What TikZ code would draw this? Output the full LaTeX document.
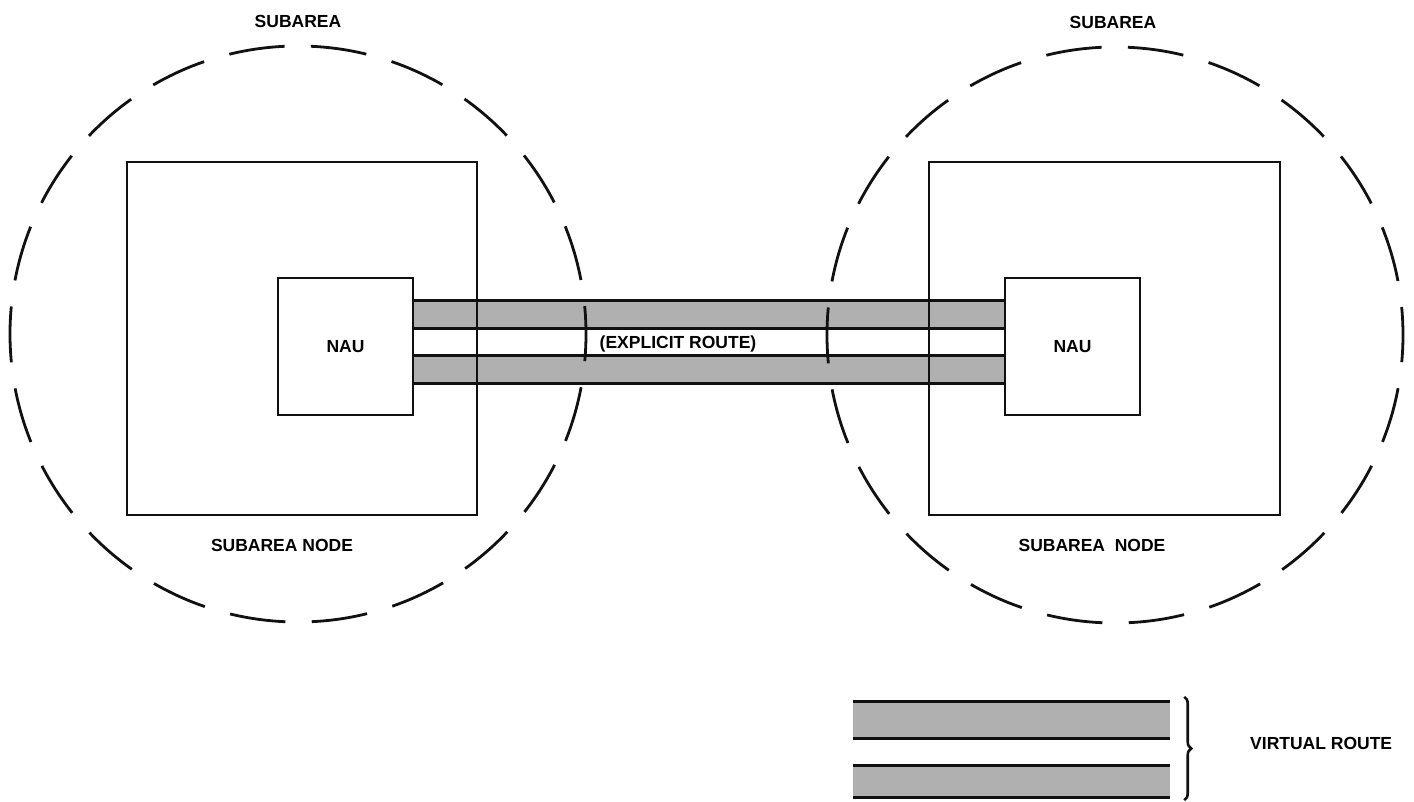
\documentclass[tikz,border=0pt]{standalone}
\usepackage{fontspec}
\setmainfont{Liberation Sans}
\usepackage{tikz}
\usetikzlibrary{
  positioning,
  calc,
  backgrounds,
  decorations.pathreplacing
}
\definecolor{snaInk}{HTML}{111111}
\definecolor{snaShade}{HTML}{B0B0B0}
\tikzset{
  subarea/.style={
    draw=snaInk, circle, minimum size=576pt, inner sep=0pt,
    line width=2.8pt, dash pattern=on 56pt off 26.3pt, dash phase=28pt
  },
  sanode/.style={draw=snaInk, rectangle, line width=2.3pt, inner sep=0pt},
  nau/.style={sanode, minimum width=135pt, minimum height=137pt, font=\bfseries\fontsize{17.5}{21}\selectfont},
  shade/.style={fill=snaShade},
  vrbar/.style={shade, minimum width=317pt, inner sep=0pt},
  edge/.style={draw=snaInk, line width=3pt},
  tag/.style={font=\bfseries\fontsize{17.5}{21}\selectfont, inner sep=0pt},
  vbrace/.style={decorate, decoration={brace, amplitude=7pt}, line width=2.6pt, draw=snaInk}
}

\begin{document}
\begin{tikzpicture}[x=1pt, y=-1pt]
  \useasboundingbox (0,0) rectangle (1414,802);
  % the two subareas
  \node[subarea] (saL) at (298,334) {};
  \node[subarea] (saR) at (1115,335) {};
  \node[tag] (saLtag) at (298,21) {SUBAREA};
  \node[tag] (saRtag) at (1113,22) {SUBAREA};
  % subarea nodes with their NAUs
  \node[sanode, minimum width=350pt, minimum height=353pt] (snL) at (302,338.5) {};
  \node[sanode, minimum width=351pt, minimum height=353pt] (snR) at (1104.5,338.5) {};
  \node[tag] (snLtag) at (282,545) {SUBAREA NODE};
  \node[tag] (snRtag) at (1092,545) {SUBAREA\ \ NODE};
  \node[nau] (nauL) at (345.5,346.5) {NAU};
  \node[nau] (nauR) at (1072.5,346.5) {NAU};
  % explicit route between the NAUs
  \begin{scope}[on background layer]
    \fill[shade] ($(nauL.north east)+(0,24)$) rectangle ($(nauR.north west)+(0,52)$);
    \fill[shade] ($(nauL.north east)+(0,79)$) rectangle ($(nauR.north west)+(0,107)$);
    \draw[edge] ($(nauL.north east)+(0,24)$) -- ($(nauR.north west)+(0,24)$);
    \draw[edge] ($(nauL.north east)+(0,52)$) -- ($(nauR.north west)+(0,52)$);
    \draw[edge] ($(nauL.north east)+(0,79)$) -- ($(nauR.north west)+(0,79)$);
    \draw[edge] ($(nauL.north east)+(0,107)$) -- ($(nauR.north west)+(0,107)$);
  \end{scope}
  \node[tag] (erTag) at (678,344) {(EXPLICIT ROUTE)};
  % legend
  \node[vrbar, minimum height=36pt] (vrA) at (1011.5,720) {};
  \node[vrbar, minimum height=31pt] (vrB) at (1011.5,781.5) {};
  \draw[edge] (vrA.north west) -- (vrA.north east) (vrA.south west) -- (vrA.south east);
  \draw[edge] (vrB.north west) -- (vrB.north east) (vrB.south west) -- (vrB.south east);
  \draw[vbrace] ($(vrA.north east)+(14,-5)$) -- ($(vrB.south east)+(14,3)$);
  \node[tag, anchor=west] (vrTag) at (1250,743) {VIRTUAL ROUTE};
\end{tikzpicture}
\end{document}
